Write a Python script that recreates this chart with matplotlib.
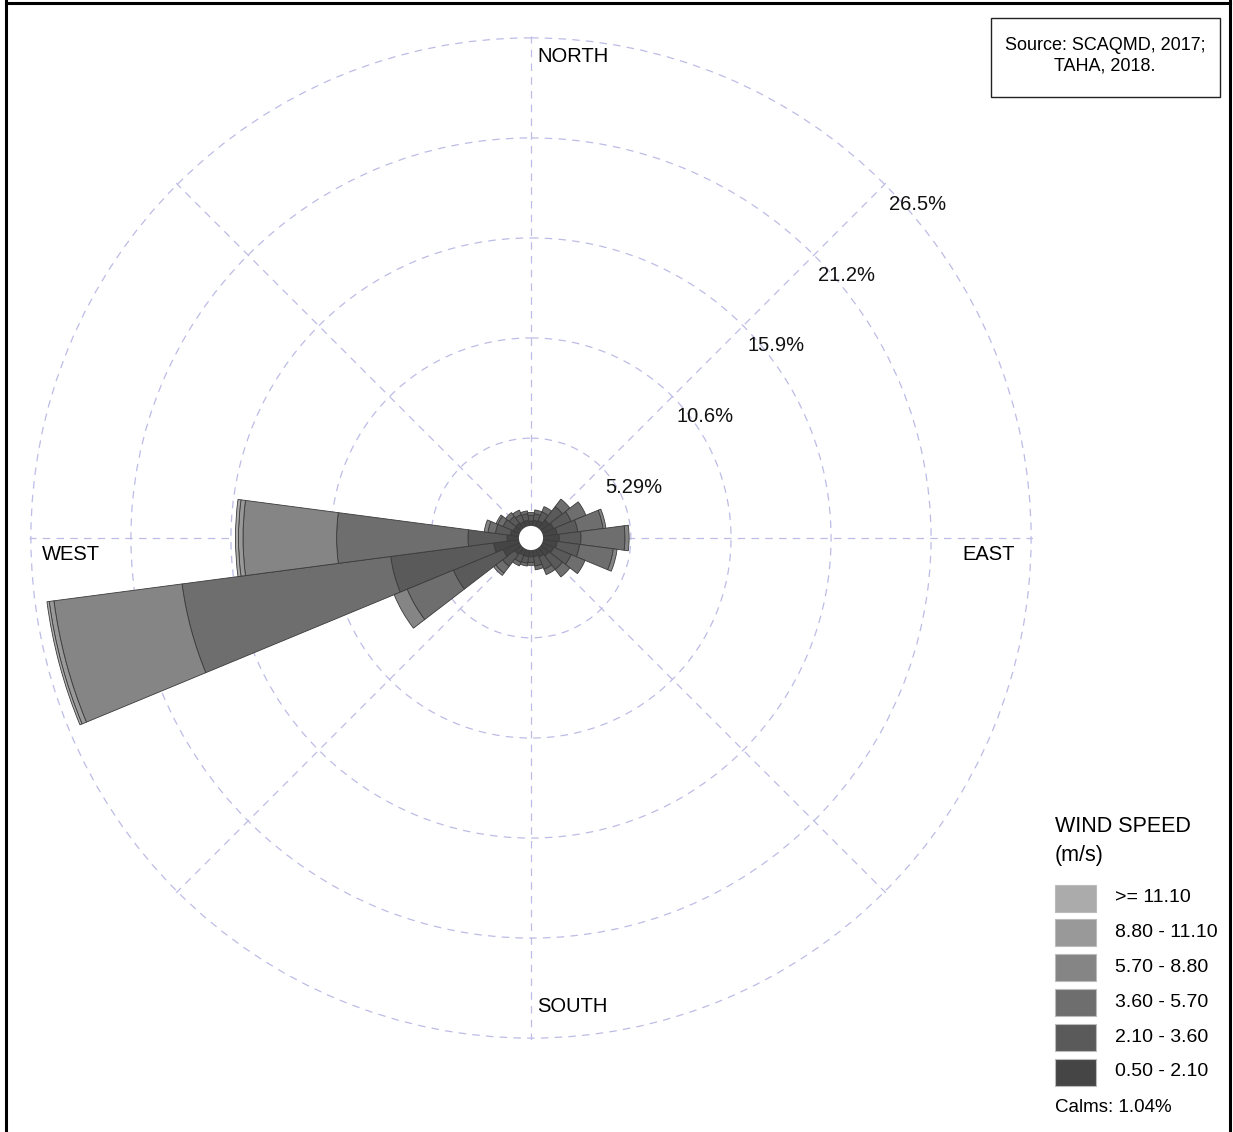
import matplotlib.pyplot as plt
import numpy as np
from matplotlib.patches import Rectangle
from matplotlib.lines import Line2D

plt.rcParams['font.family'] = ['Liberation Sans', 'DejaVu Sans']

# wind directions (deg, blowing from), 24 sectors
directions = [0, 15, 30, 45, 60, 75, 90, 105, 120, 135, 150, 165,
              180, 195, 210, 225, 240, 255, 270, 285, 300, 315, 330, 345]

# frequency (%) per speed class
freq_050_210 = [0.90, 0.95, 1.00, 1.20, 1.30, 1.40, 1.50, 1.40, 1.30, 1.20, 1.10, 1.00,
                1.00, 1.00, 1.00, 1.10, 1.60, 2.00, 1.27, 1.10, 1.00, 1.00, 0.95, 0.95]
freq_210_360 = [0.30, 0.35, 0.50, 0.90, 1.00, 1.10, 1.15, 1.20, 1.00, 0.90, 0.70, 0.50,
                0.30, 0.35, 0.40, 0.80, 2.85, 5.50, 2.07, 0.80, 0.60, 0.45, 0.40, 0.35]
freq_360_570 = [0.15, 0.20, 0.30, 0.50, 0.85, 1.35, 2.33, 1.80, 0.80, 0.50, 0.30, 0.20,
                0.15, 0.15, 0.20, 0.45, 2.65, 11.15, 6.96, 0.40, 0.30, 0.25, 0.25, 0.15]
freq_570_880 = [0, 0, 0, 0, 0, 0.15, 0.22, 0.20, 0, 0, 0, 0,
                0, 0, 0, 0.15, 0.75, 6.85, 4.96, 0.20, 0.10, 0, 0, 0]
freq_880_1110 = [0, 0, 0, 0, 0, 0, 0, 0, 0, 0, 0, 0,
                 0, 0, 0, 0, 0, 0.25, 0.24, 0, 0, 0, 0, 0]
freq_ge_1110 = [0, 0, 0, 0, 0, 0, 0, 0, 0, 0, 0, 0,
                0, 0, 0, 0, 0, 0.12, 0.16, 0, 0, 0, 0, 0]

speed_labels = ['0.50 - 2.10', '2.10 - 3.60', '3.60 - 5.70',
                '5.70 - 8.80', '8.80 - 11.10', '>= 11.10']
speed_colors = ['#454545', '#5a5a5a', '#6e6e6e', '#858585', '#999999', '#ababab']

ring_values = [5.29, 10.6, 15.9, 21.2, 26.5]
ring_labels = ['5.29%', '10.6%', '15.9%', '21.2%', '26.5%']
calms = 1.04

W, H = 1233, 1132
fig = plt.figure(figsize=(W / 100, H / 100), dpi=100)

def fx(x):
    return x / W

def fy(y):
    return 1 - y / H

# polar axes, centre at (531, 538) px, outer radius ~502 px
R = 502
ax = fig.add_axes([fx(531 - R), fy(538 + R), 2 * R / W, 2 * R / H], projection='polar')
ax.set_theta_zero_location('N')
ax.set_theta_direction(-1)
ax.set_ylim(0, 26.6)
ax.set_axisbelow(True)

theta = np.radians(directions)
width = np.radians(15)
all_freqs = [freq_050_210, freq_210_360, freq_360_570, freq_570_880, freq_880_1110, freq_ge_1110]
bottom = np.zeros(len(directions))
for f, c in zip(all_freqs, speed_colors):
    f = np.array(f)
    m = f > 0
    ax.bar(theta[m], f[m], width=width, bottom=bottom[m], color=c,
           edgecolor='#3a3a3a', linewidth=0.6, zorder=3)
    bottom = bottom + f

# calm hole in the centre
ax.bar(0, 0.64, width=2 * np.pi, bottom=0, color='white', edgecolor='none', zorder=5)

grid_kw = dict(color='#bcbce6', linestyle=(0, (6, 5)), linewidth=0.9)
ax.set_rgrids(ring_values, labels=[''] * len(ring_values))
ax.set_thetagrids(range(0, 360, 45), labels=[''] * 8)
ax.yaxis.grid(True, **grid_kw)
ax.xaxis.grid(True, **grid_kw)
ax.spines['polar'].set_visible(False)
ax.patch.set_alpha(0)

for v, lab in zip(ring_values, ring_labels):
    ax.annotate(lab, xy=(np.radians(45), v), xytext=(4, -20), textcoords='offset pixels',
                ha='left', va='center', fontsize=14.5, color='#111111')

# compass labels
fs = 14.5
fig.text(fx(537), fy(57), 'NORTH', ha='left', va='center', fontsize=fs)
fig.text(fx(537), fy(1007), 'SOUTH', ha='left', va='center', fontsize=fs)
fig.text(fx(42), fy(555), 'WEST', ha='left', va='center', fontsize=fs)
fig.text(fx(962), fy(555), 'EAST', ha='left', va='center', fontsize=fs)

# source box
fig.patches.append(Rectangle((fx(991), fy(97)), fx(1220) - fx(991), fy(18) - fy(97),
                             transform=fig.transFigure, facecolor='white',
                             edgecolor='#222222', linewidth=1.0))
fig.text(fx(1105), fy(56), 'Source: SCAQMD, 2017;\nTAHA, 2018.', ha='center', va='center',
         fontsize=13, linespacing=1.3)

# legend
fig.text(fx(1055), fy(827), 'WIND SPEED', ha='left', va='center', fontsize=15.5)
fig.text(fx(1055), fy(856), '(m/s)', ha='left', va='center', fontsize=15.5)
for i, (lab, c) in enumerate(zip(speed_labels[::-1], speed_colors[::-1])):
    yc = 898 + i * 34.8
    fig.patches.append(Rectangle((fx(1055), fy(yc + 13.5)), fx(1096) - fx(1055), 27 / H,
                                 transform=fig.transFigure, facecolor=c,
                                 edgecolor='#bbbbbb', linewidth=0.8))
    fig.text(fx(1115), fy(yc), lab, ha='left', va='center', fontsize=14)
fig.text(fx(1055), fy(1107), 'Calms: %.2f%%' % calms, ha='left', va='center', fontsize=13.5)

# outer frame (left, top, right)
for xs, ys in [([6, 6], [0, H]), ([6, 1230], [3, 3]), ([1230, 1230], [0, H])]:
    fig.lines.append(Line2D([fx(x) for x in xs], [fy(y) for y in ys],
                            transform=fig.transFigure, color='black', linewidth=2.2))

fig.savefig('out.png', dpi=100)
